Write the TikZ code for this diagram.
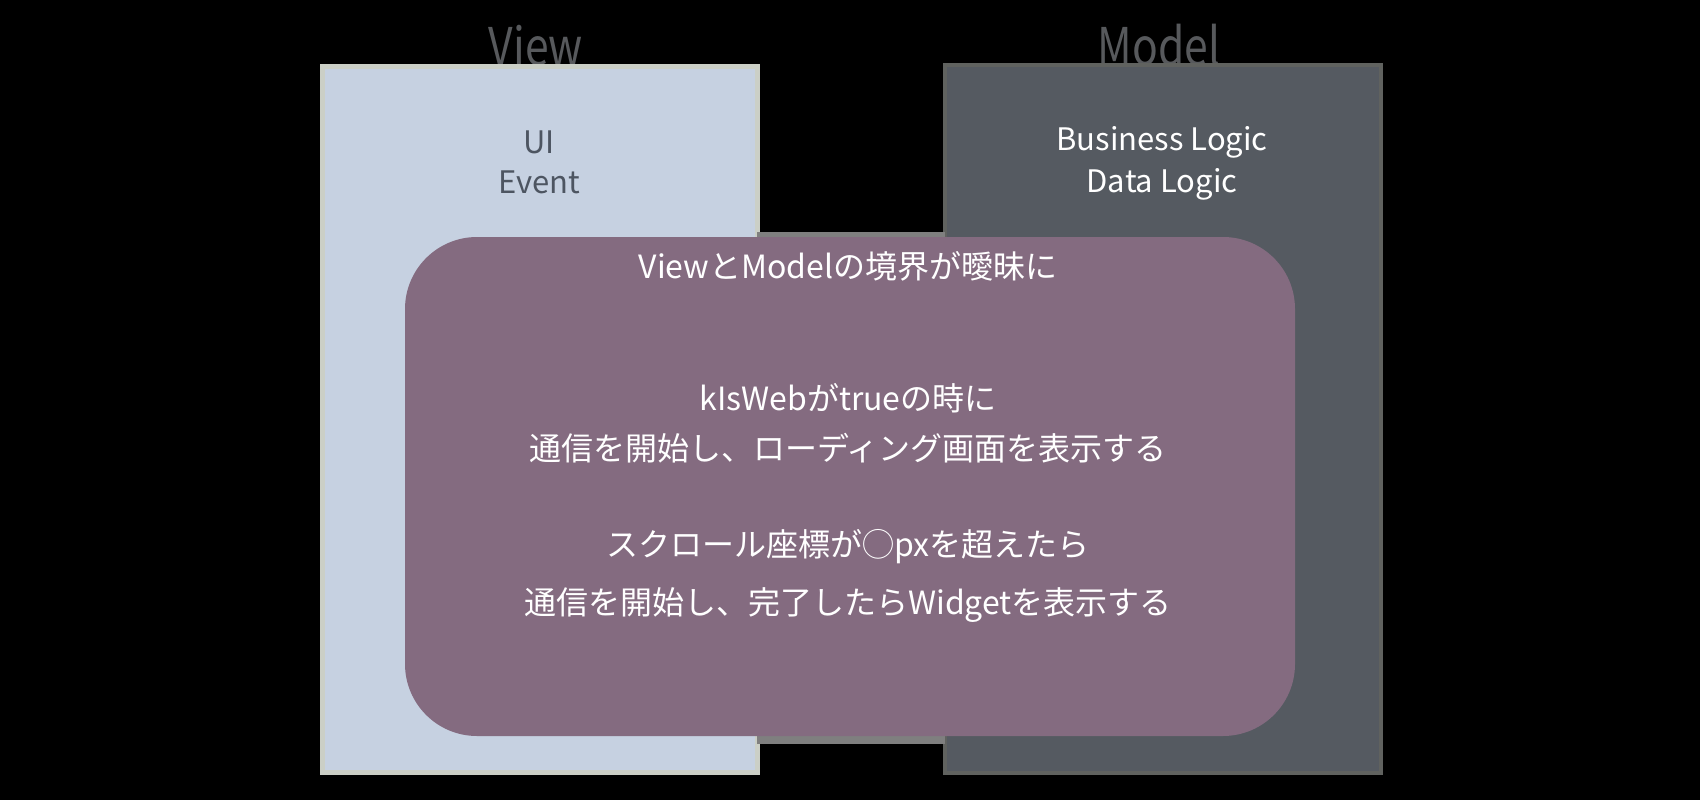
\documentclass[tikz,border=0pt]{standalone}
\usepackage{fontspec}
\setmainfont{Noto Sans CJK JP}
\definecolor{bgblack}{HTML}{000000}
\definecolor{viewfill}{HTML}{C6D1E1}
\definecolor{viewedge}{HTML}{CBCFC6}
\definecolor{modelfill}{HTML}{555A61}
\definecolor{modeledge}{HTML}{60625F}
\definecolor{strip}{HTML}{7F7F7F}
\definecolor{purplefill}{HTML}{846B80}
\definecolor{titlegray}{HTML}{57595C}
\definecolor{viewtext}{HTML}{4D5561}
\begin{document}
\begin{tikzpicture}[x=1pt,y=-1pt,
  titletext/.style={anchor=base,inner sep=0pt,text=titlegray,font=\fontsize{52}{60}\selectfont,xscale=0.82},
  boxtext/.style={anchor=base,inner sep=0pt,font=\fontsize{31}{38}\selectfont},
  midtext/.style={anchor=base,inner sep=0pt,text=white,font=\fontsize{32}{38}\selectfont}]
\useasboundingbox (0,0) rectangle (1700,800);
\fill[bgblack] (0,0) rectangle (1700,800);
% titles (partly hidden behind boxes)
\node[titletext] (viewtitle) at (536,66) {View};
\node[titletext] (modeltitle) at (1159,66) {Model};
% boxes
\draw[viewedge,line width=5pt,fill=viewfill] (322.5,66.5) rectangle (757.5,772.5);
\draw[modeledge,line width=4pt,fill=modelfill] (945,65) rectangle (1381,773);
\fill[strip] (757,232) rectangle (945,744);
\fill[purplefill,rounded corners=72pt] (405,237) rectangle (1295,736);
% box texts
\node[boxtext,text=viewtext] (ui) at (539,153) {UI};
\node[boxtext,text=viewtext] (event) at (539,193) {Event};
\node[boxtext,text=white] (business) at (1162,150) {Business Logic};
\node[boxtext,text=white] (data) at (1162,192) {Data Logic};
% overlap texts
\node[midtext] (t0) at (848,278) {ViewとModelの境界が曖昧に};
\node[midtext] (t1) at (848,410) {kIsWebがtrueの時に};
\node[midtext] (t2) at (848,460) {通信を開始し、ローディング画面を表示する};
\node[midtext] (t3) at (848,556) {スクロール座標が◯pxを超えたら};
\node[midtext] (t4) at (848,614) {通信を開始し、完了したらWidgetを表示する};
\end{tikzpicture}
\end{document}
